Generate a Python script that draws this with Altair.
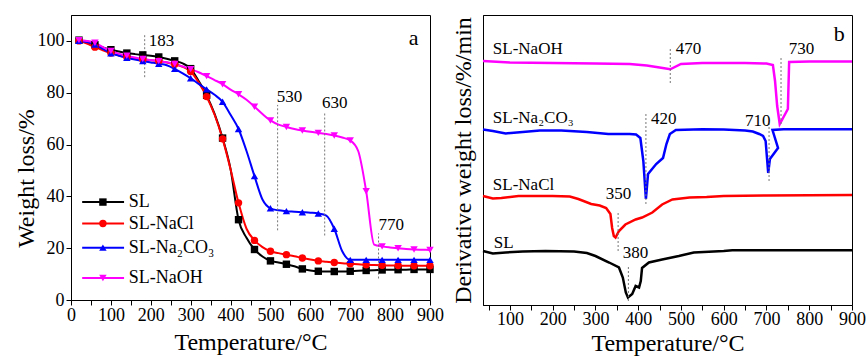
import altair as alt
import pandas as pd

FONT = "Liberation Serif"

series = ["SL", "SL-NaCl", "SL-Na₂CO₃", "SL-NaOH"]
colors = ["#000000", "#FF0000", "#0000FF", "#FF00FF"]
shapes = ["square", "circle", "triangle-up", "triangle-down"]

# ---------------- TGA (panel a) ----------------
temps = list(range(20, 901, 20))
tga_sl = [100.3, 99.5, 98.5, 97.5, 96.6, 95.9, 95.3, 94.9, 94.6, 94.3, 93.8, 93.1, 92.3, 91.3,
          89.3, 84.5, 79.0, 71.8, 62.5, 50.5, 31.0, 24.0, 19.5, 16.8, 15.1, 14.5, 13.8, 13.0,
          12.0, 11.4, 11.1, 11.0, 11.0, 11.0, 11.1, 11.3, 11.4, 11.5, 11.6, 11.7, 11.7, 11.7,
          11.8, 11.8, 11.8]
tga_nacl = [100.0, 99.0, 97.6, 96.4, 95.3, 94.4, 93.7, 93.2, 92.8, 92.5, 92.2, 91.7, 91.0, 90.0,
            88.2, 84.0, 78.5, 71.5, 62.2, 50.5, 37.5, 27.5, 23.0, 20.4, 18.8, 18.1, 17.5, 16.9,
            16.2, 15.6, 15.1, 14.8, 14.5, 14.2, 14.0, 13.8, 13.6, 13.5, 13.4, 13.3, 13.3, 13.2,
            13.2, 13.2, 13.2]
tga_na2co3 = [100.0, 99.6, 98.6, 96.9, 95.2, 94.3, 93.5, 92.8, 92.2, 91.7, 91.2, 90.6, 89.2, 87.5,
              85.6, 83.4, 81.3, 79.2, 76.5, 71.5, 66.0, 57.5, 47.8, 38.8, 35.4, 34.6, 34.3, 34.1,
              33.9, 33.7, 33.4, 32.6, 27.5, 18.8, 15.5, 15.5, 15.5, 15.5, 15.5, 15.5, 15.5, 15.5,
              15.5, 15.5, 15.5]
tga_naoh = [100.3, 100.0, 99.3, 97.6, 96.1, 95.1, 94.3, 93.6, 93.0, 92.6, 92.2, 91.8, 91.1, 90.1,
            89.1, 87.9, 86.4, 84.9, 83.3, 81.2, 79.4, 77.3, 74.6, 71.8, 69.3, 67.7, 66.8, 66.0,
            65.4, 64.9, 64.5, 64.1, 63.5, 62.7, 61.6, 57.5, 42.0, 21.4, 20.7, 20.3, 20.0, 19.7,
            19.5, 19.4, 19.3]

tga_marks_T = [184.7, 518, 636, 771]
tga_marks_lo = [86.0, 26.9, 24.9, 8.3]
tga_marks_hi = [102.4, 75.3, 72.6, 25.7]
tga_labels = ["183", "530", "630", "770"]
tga_label_T = [195, 516, 629, 771]
tga_label_W = [100.0, 78.5, 76.0, 28.8]

legend_W = [37.8, 29.5, 20.2, 8.5]

# ---------------- DTG (panel b), arbitrary offset units ----------------
dtg_sl_T = [37, 60, 90, 130, 183, 250, 280, 300, 332, 355, 364, 371, 376, 386, 394, 402, 406, 409,
            425, 456, 495, 530, 600, 620, 900]
dtg_sl_v = [54, 51.5, 52.5, 53.5, 54, 53.5, 52, 49, 42.5, 37.5, 27.5, 12.5, 7.5, 11, 19, 17.5, 24, 37,
            42.5, 45.5, 49, 52.5, 54, 54.7, 54.7]
dtg_nacl_T = [37, 60, 80, 120, 200, 240, 260, 290, 310, 325, 335, 339, 343, 347, 355, 370, 394, 409,
              433, 456, 480, 520, 560, 600, 700, 900]
dtg_nacl_v = [109, 106.5, 107, 109, 109, 108.5, 106, 101, 99.5, 97, 91, 77, 69, 67.5, 74, 80.5, 85.5,
              87.5, 92.5, 100.5, 105.5, 107.5, 108, 109, 109.5, 110]
dtg_na2co3_T = [37, 60, 90, 130, 170, 220, 280, 330, 380, 395, 405, 412, 418, 423, 442, 458, 466, 474,
                488, 550, 600, 650, 668, 683, 692, 698, 704, 708, 727, 714, 740, 800, 900]
dtg_na2co3_v = [175.5, 174, 171.5, 173, 174.5, 174.5, 173, 171, 171, 170.5, 167, 144, 106, 131, 141,
                147, 161, 171, 175, 175.7, 175.5, 174.5, 173.5, 171, 169, 164, 132, 146, 157, 175,
                175.7, 175.7, 175.7]
dtg_naoh_T = [37, 100, 200, 300, 380, 420, 450, 475, 500, 550, 600, 650, 700, 715, 720, 725, 731, 745,
              750, 753, 800, 900]
dtg_naoh_v = [244, 242.5, 242, 241.5, 241, 239.5, 237.5, 235.7, 241, 242, 242, 242, 241.5, 240, 224,
              199, 181, 192, 196, 243, 243.5, 243.5]

dtg_marks_T = [475, 734, 418, 706, 353, 377]
dtg_marks_lo = [222, 181, 101, 124, 54, 4]
dtg_marks_hi = [257, 249, 191, 182, 92, 39]
dtg_val_labels = ["470", "730", "420", "710", "350", "380"]
dtg_val_T = [488, 752, 430, 650, 324, 364]
dtg_val_v = [256, 256, 186, 184, 110.7, 52]
dtg_name_T = [60, 60, 60, 62]
dtg_name_v = [256, 187, 120, 62]
dtg_names = ["SL-NaOH", "SL-Na₂CO₃", "SL-NaCl", "SL"]

# ---------------- tables ----------------
rows = []
for name, vals in zip(series, [tga_sl, tga_nacl, tga_na2co3, tga_naoh]):
    for i, (t, w) in enumerate(zip(temps, vals)):
        rows.append({"T": t, "W": w, "series": name, "marker": i % 2 == 0})
tga = pd.DataFrame(rows)

drows = []
for name, ts, vs in zip(series, [dtg_sl_T, dtg_nacl_T, dtg_na2co3_T, dtg_naoh_T],
                        [dtg_sl_v, dtg_nacl_v, dtg_na2co3_v, dtg_naoh_v]):
    for i, (t, v) in enumerate(zip(ts, vs)):
        drows.append({"T": t, "v": v, "series": name, "idx": i})
dtg = pd.DataFrame(drows)

color = alt.Color("series:N", scale=alt.Scale(domain=series, range=colors), legend=None)
shape = alt.Shape("series:N", scale=alt.Scale(domain=series, range=shapes), legend=None)

xa = alt.Scale(domain=[0, 900], nice=False, zero=False)
ya = alt.Scale(domain=[0, 110], nice=False)

x_axis_a = alt.Axis(values=list(range(0, 901, 100)), labelOverlap=False, labelFlush=False,
                    title="Temperature/°C", labelPadding=1, titlePadding=6)
x_minor_a = alt.Axis(values=list(range(50, 901, 100)), labels=False, title=None, orient="bottom",
                     domain=False, grid=False)
y_axis_a = alt.Axis(values=list(range(0, 101, 10)), labelOverlap=False, labelFlush=False,
                    labelExpr="datum.value % 20 === 0 ? datum.label : ''",
                    title="Weight loss/%", labelPadding=2, titlePadding=-1, titleY=163)

base_a = alt.Chart(tga)
lines_a = base_a.mark_line(strokeWidth=2, interpolate="monotone").encode(
    x=alt.X("T:Q", scale=xa, axis=x_axis_a),
    y=alt.Y("W:Q", scale=ya, axis=y_axis_a),
    color=color, detail="series:N")
points_a = base_a.transform_filter("datum.marker").mark_point(
    filled=True, size=55, opacity=1).encode(
    x=alt.X("T:Q", scale=xa, axis=None), y=alt.Y("W:Q", scale=ya), color=color, shape=shape)

marks_a = pd.DataFrame({"T": tga_marks_T, "lo": tga_marks_lo, "hi": tga_marks_hi})
rules_a = alt.Chart(marks_a).mark_rule(color="#777777", strokeWidth=1, strokeDash=[2, 2]).encode(
    x=alt.X("T:Q", scale=xa, axis=x_minor_a), y=alt.Y("lo:Q", scale=ya), y2="hi:Q")
labs_a = pd.DataFrame({"T": tga_label_T, "W": tga_label_W, "t": tga_labels})
text_a = alt.Chart(labs_a).mark_text(align="left", baseline="middle", font=FONT, fontSize=17,
                                     color="black").encode(
    x=alt.X("T:Q", scale=xa, axis=None), y=alt.Y("W:Q", scale=ya), text="t:N")
tag_a = alt.Chart(pd.DataFrame({"T": [859], "W": [101.2], "t": ["a"]})).mark_text(
    font=FONT, fontSize=22, color="black", baseline="middle").encode(
    x=alt.X("T:Q", scale=xa, axis=None), y=alt.Y("W:Q", scale=ya), text="t:N")

leg = pd.DataFrame({"series": series, "W": legend_W, "x0": [28] * 4, "x1": [133] * 4,
                    "xm": [80] * 4, "xt": [145] * 4})
leg_rule = alt.Chart(leg).mark_rule(strokeWidth=2).encode(
    x=alt.X("x0:Q", scale=xa, axis=None), x2="x1:Q", y=alt.Y("W:Q", scale=ya), color=color)
leg_pt = alt.Chart(leg).mark_point(filled=True, size=55, opacity=1).encode(
    x=alt.X("xm:Q", scale=xa, axis=None), y=alt.Y("W:Q", scale=ya), color=color, shape=shape)
leg_txt = alt.Chart(leg).mark_text(align="left", baseline="middle", font=FONT, fontSize=18,
                                   color="black").encode(
    x=alt.X("xt:Q", scale=xa, axis=None), y=alt.Y("W:Q", scale=ya), text="series:N")

panel_a = alt.layer(lines_a, rules_a, points_a, text_a, tag_a, leg_rule, leg_pt, leg_txt).resolve_axis(
    x="independent").properties(width=359, height=285)

# ---------------- panel b ----------------
xb = alt.Scale(domain=[37, 900], nice=False, zero=False)
yb = alt.Scale(domain=[0, 290], nice=False)
x_axis_b = alt.Axis(values=list(range(100, 901, 100)), labelOverlap=False, labelFlush=False,
                    title="Temperature/°C", labelPadding=0, titlePadding=3)
x_minor_b = alt.Axis(values=list(range(50, 901, 100)), labels=False, title=None, orient="bottom",
                     domain=False, grid=False)
y_axis_b = alt.Axis(labels=False, ticks=False, title="Derivative weight loss/%/min", titlePadding=8)

lines_b = alt.Chart(dtg).mark_line(strokeWidth=2.5).encode(
    x=alt.X("T:Q", scale=xb, axis=x_axis_b),
    y=alt.Y("v:Q", scale=yb, axis=y_axis_b),
    color=color, detail="series:N", order="idx:Q")
marks_b = pd.DataFrame({"T": dtg_marks_T, "lo": dtg_marks_lo, "hi": dtg_marks_hi})
rules_b = alt.Chart(marks_b).mark_rule(color="#777777", strokeWidth=1, strokeDash=[2, 2]).encode(
    x=alt.X("T:Q", scale=xb, axis=x_minor_b), y=alt.Y("lo:Q", scale=yb), y2="hi:Q")
vals_b = pd.DataFrame({"T": dtg_val_T, "v": dtg_val_v, "t": dtg_val_labels})
vtext_b = alt.Chart(vals_b).mark_text(align="left", baseline="middle", font=FONT, fontSize=17,
                                      color="black").encode(
    x=alt.X("T:Q", scale=xb, axis=None), y=alt.Y("v:Q", scale=yb), text="t:N")
names_b = pd.DataFrame({"T": dtg_name_T, "v": dtg_name_v, "t": dtg_names})
ntext_b = alt.Chart(names_b).mark_text(align="left", baseline="middle", font=FONT, fontSize=17,
                                       color="black").encode(
    x=alt.X("T:Q", scale=xb, axis=None), y=alt.Y("v:Q", scale=yb), text="t:N")
tag_b = alt.Chart(pd.DataFrame({"T": [870], "v": [271], "t": ["b"]})).mark_text(
    font=FONT, fontSize=22, color="black", baseline="middle").encode(
    x=alt.X("T:Q", scale=xb, axis=None), y=alt.Y("v:Q", scale=yb), text="t:N")

panel_b = alt.layer(lines_b, rules_b, vtext_b, ntext_b, tag_b).resolve_axis(
    x="independent").properties(width=369, height=290)

chart = alt.hconcat(panel_a, panel_b, spacing=6).properties(
    padding={"left": 13, "top": 14, "right": 1, "bottom": 0}
).configure_view(stroke="black", strokeWidth=1).configure_axis(
    grid=False, domainColor="black", domainWidth=1, tickColor="black", tickSize=5,
    labelFont=FONT, titleFont=FONT, labelFontSize=18, titleFontSize=24,
    labelColor="black", titleColor="black", titleFontWeight="normal"
)

chart.save("out.html", embed_options={"renderer": "svg", "actions": False})
